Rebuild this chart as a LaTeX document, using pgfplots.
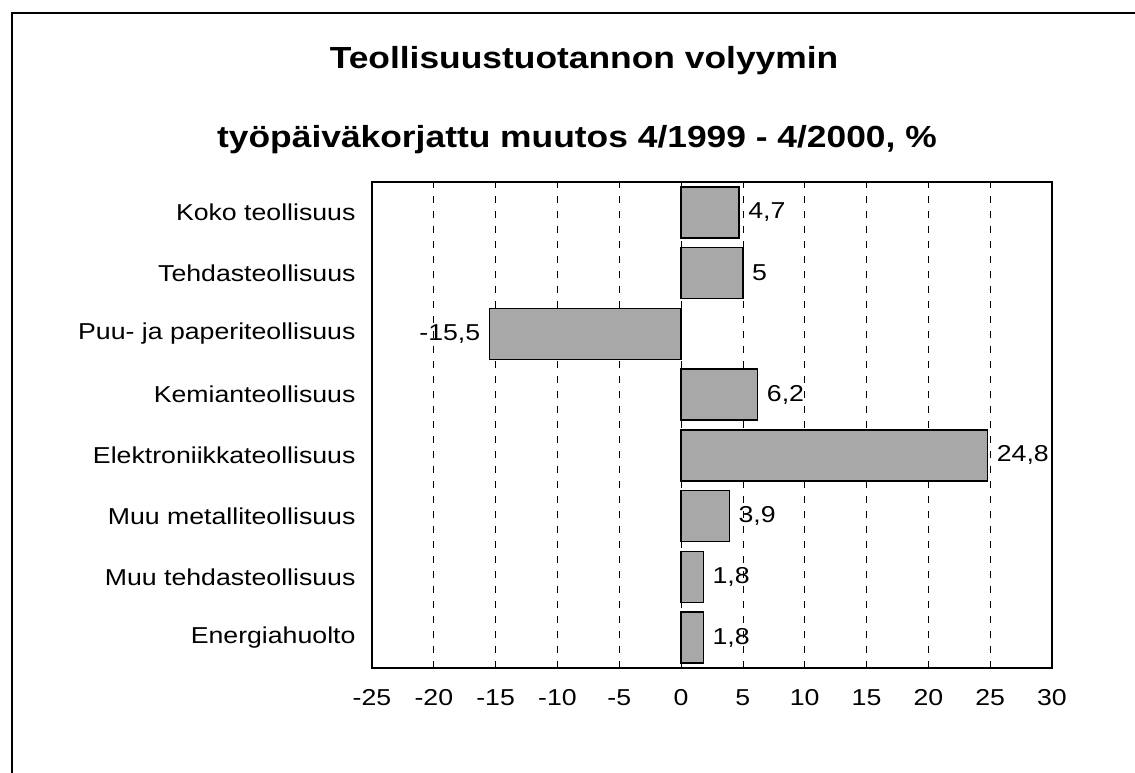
\documentclass[border=0pt]{standalone}
\usepackage{fontspec}
\setmainfont{Liberation Sans}[FakeStretch=1.16]
\usepackage{pgfplots}
\pgfplotsset{compat=1.18}
\definecolor{barfill}{gray}{0.66}
\begin{document}
\begin{tikzpicture}
\begin{axis}[
  width=680pt, height=486pt, scale only axis,
  xmin=-25, xmax=30, ymin=-0.5, ymax=7.5,
  xtick={-25,-20,...,30},
  ytick={0,...,7},
  yticklabels={Energiahuolto, Muu tehdasteollisuus, Muu metalliteollisuus, Elektroniikkateollisuus, Kemianteollisuus, Puu- ja paperiteollisuus, Tehdasteollisuus, Koko teollisuus},
  tick label style={font=\fontsize{23}{27}\selectfont},
  /pgf/number format/assume math mode=true,
  yticklabel style={xshift=-13pt},
  xticklabel style={yshift=-18pt},
  major tick length=0pt,
  xmajorgrids, ymajorgrids=false,
  major grid style={black, line width=0.8pt, dash pattern=on 7pt off 8pt},
  axis line style={line width=1.6pt},
  clip=false,
]
\addplot[xbar, bar width=0.84, fill=barfill, draw=black, line width=1.5pt] table[x=v, y=c] {
c v
7 4.7
6 5.0
5 -15.5
4 6.2
3 24.8
2 3.9
1 1.8
0 1.8
};
\addplot[draw=none, mark=none, nodes near coords, point meta=explicit symbolic,
  nodes near coords style={font=\fontsize{23}{27}\selectfont, anchor=west, inner sep=4pt, xshift=5pt}]
  table[x=v, y=c, meta=lab] {
c v lab
7 4.7 4,7
6 5.0 5
4 6.2 6,2
3 24.8 24,8
2 3.9 3,9
1 1.8 1,8
0 1.8 1,8
};
\addplot[draw=none, mark=none, nodes near coords, point meta=explicit symbolic,
  nodes near coords style={font=\fontsize{23}{27}\selectfont, anchor=east, inner sep=4pt, xshift=-5pt}]
  table[x=v, y=c, meta=lab] {
c v lab
5 -15.5 -15,5
};
\coordinate (O) at (rel axis cs:0,0);
\end{axis}
\useasboundingbox ([shift={(-372pt,-105pt)}]O) rectangle ([shift={(763pt,668pt)}]O);
\draw[line width=1.6pt] ([shift={(-360pt,-110pt)}]O) -- ([shift={(-360pt,655pt)}]O) -- ([shift={(770pt,655pt)}]O);
\node[font=\fontsize{30.5}{36}\selectfont\bfseries] at ([shift={(212pt,607pt)}]O) {Teollisuustuotannon volyymin};
\node[font=\fontsize{30.5}{36}\selectfont\bfseries] at ([shift={(205pt,528pt)}]O) {työpäiväkorjattu muutos 4/1999 - 4/2000, \%};
\end{tikzpicture}
\end{document}
